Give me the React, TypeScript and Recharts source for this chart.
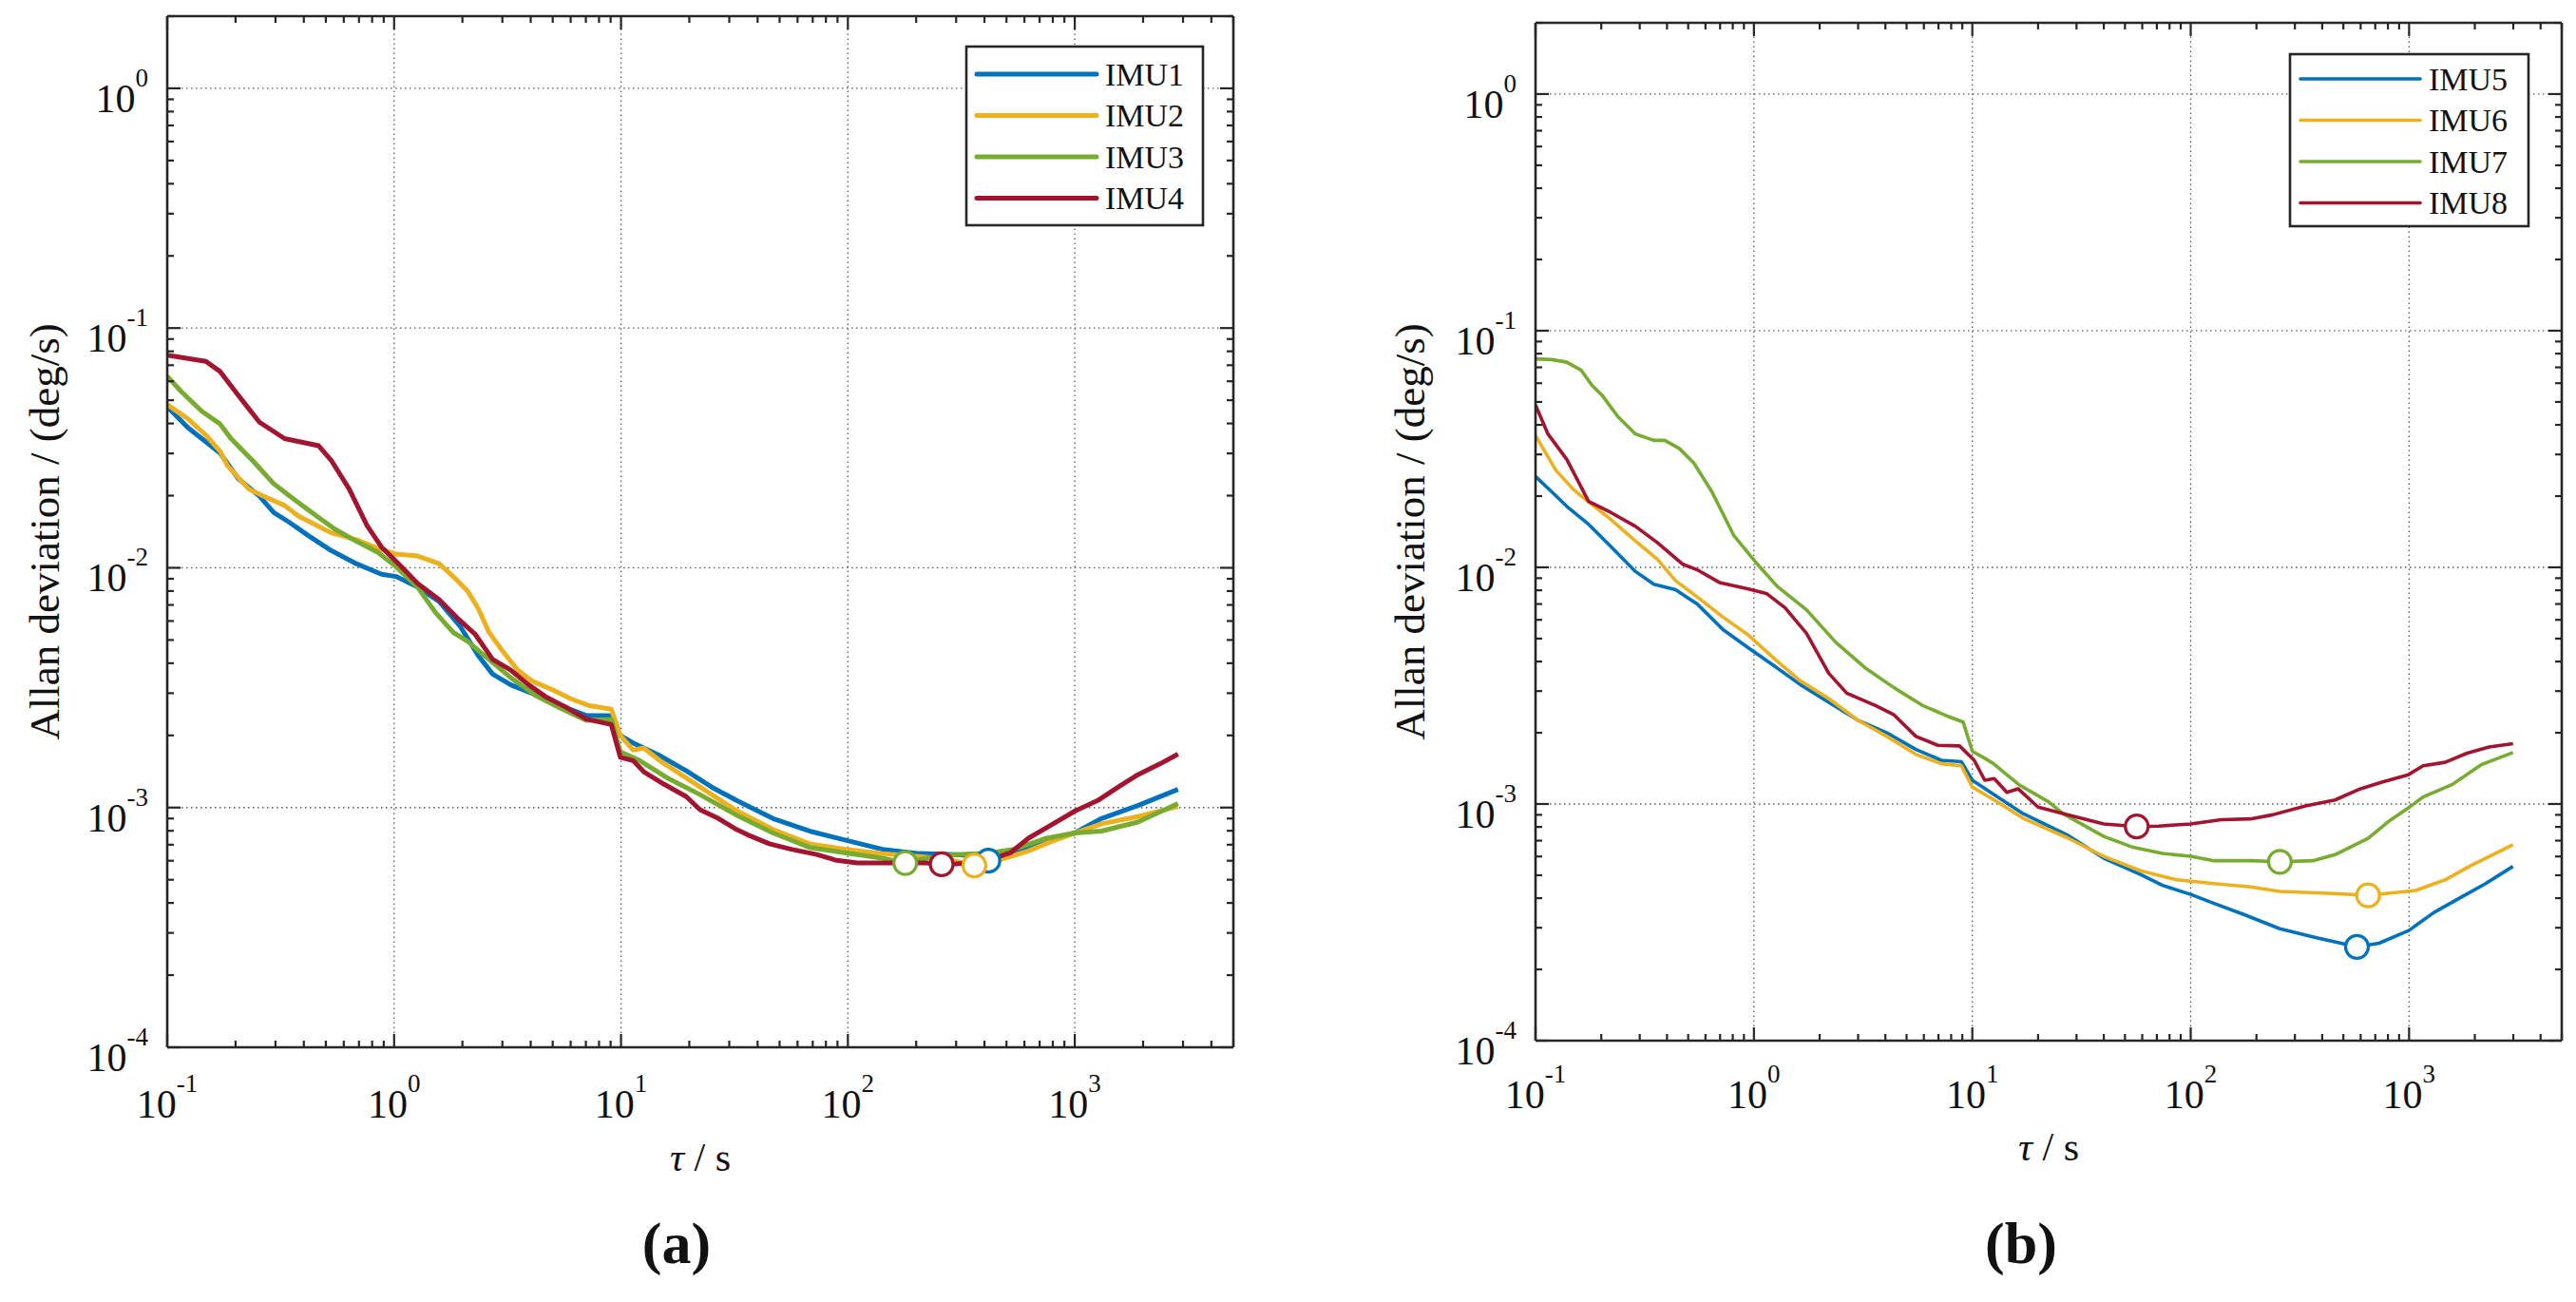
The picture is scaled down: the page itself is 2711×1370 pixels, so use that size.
import React from 'react';
import { ComposedChart, Line, Scatter, XAxis, YAxis, ReferenceLine } from 'recharts';

const FONT = '"Liberation Serif", "Times New Roman", serif';
const AXIS = '#262626';
const GRID = '#5a5a5a';

// axes
const tauMajor = [0.1, 1, 10, 100, 1000];
const adevMajor = [0.0001, 0.001, 0.01, 0.1, 1];
const minorSteps = [2, 3, 4, 5, 6, 7, 8, 9];
const tauDomain = [0.1, 5000];
const adevDomain = [0.0001, 2];
const tauGrid = [1, 10, 100, 1000];
const adevGrid = [0.001, 0.01, 0.1, 1];

const withMinor = (majors: number[], max: number) => [
  ...majors,
  ...majors
    .flatMap((d) => minorSteps.map((m) => Number((d * m).toPrecision(2))))
    .filter((v) => v <= max),
];
const tauTicks = withMinor(tauMajor, tauDomain[1]);
const adevTicks = withMinor(adevMajor, adevDomain[1]);

const colors = ['#0072BD', '#EDB120', '#77AC30', '#A2142F'];
const namesA = ['IMU1', 'IMU2', 'IMU3', 'IMU4'];
const namesB = ['IMU5', 'IMU6', 'IMU7', 'IMU8'];

// [tau (s), Allan deviation (deg/s)]
const imu1 = [
  [0.1, 0.047], [0.123, 0.0385], [0.142, 0.0346], [0.171, 0.0301], [0.205, 0.0236],
  [0.255, 0.0199], [0.295, 0.017], [0.341, 0.0156], [0.425, 0.0135], [0.528, 0.0118],
  [0.682, 0.0104], [0.88, 0.0094], [1.02, 0.0092], [1.27, 0.0083], [1.58, 0.00724],
  [1.96, 0.00568], [2.35, 0.0043], [2.72, 0.0036], [3.27, 0.00325], [3.92, 0.00303],
  [4.7, 0.00283], [5.85, 0.00259], [7.03, 0.00242], [8.9, 0.00242], [9.93, 0.002],
  [11.3, 0.00186], [14.6, 0.00166], [19.5, 0.00142], [25, 0.00122], [32.3, 0.00107],
  [46.8, 0.0009], [67.7, 0.000798], [98, 0.000731], [142, 0.00067], [206, 0.000643],
  [298, 0.000637], [350, 0.00063], [416, 0.0006], [480, 0.00062], [540, 0.000647],
  [752, 0.000731], [1000, 0.000783], [1310, 0.0009], [1897, 0.00102], [2850, 0.00119],
];
const imu2 = [
  [0.1, 0.048], [0.123, 0.0419], [0.148, 0.0358], [0.171, 0.0306], [0.184, 0.0267],
  [0.229, 0.0213], [0.265, 0.0199], [0.329, 0.0182], [0.38, 0.0164], [0.528, 0.014],
  [0.682, 0.0131], [0.818, 0.0122], [1.02, 0.0114], [1.27, 0.0112], [1.58, 0.0104],
  [1.82, 0.0092], [2.11, 0.008], [2.35, 0.00675], [2.62, 0.00538], [3.03, 0.00445],
  [3.51, 0.00374], [4.06, 0.00337], [5.06, 0.00308], [6.07, 0.00283], [7.28, 0.00266],
  [9.06, 0.00257], [9.93, 0.002], [11.3, 0.00174], [12.6, 0.00177], [15.1, 0.00155],
  [22, 0.00123], [32.3, 0.00097], [46.8, 0.00081], [67.7, 0.000706], [98, 0.00067],
  [142, 0.000643], [206, 0.000625], [277, 0.000608], [361, 0.000573], [465, 0.000604],
  [625, 0.000659], [780, 0.000719], [1000, 0.000783], [1310, 0.000855], [1897, 0.000917],
  [2850, 0.00101],
];
const imu3 = [
  [0.1, 0.063], [0.115, 0.0545], [0.142, 0.045], [0.171, 0.0398], [0.191, 0.0346],
  [0.237, 0.0281], [0.295, 0.0224], [0.367, 0.0191], [0.457, 0.0164], [0.548, 0.0145],
  [0.682, 0.0129], [0.849, 0.0116], [1.02, 0.0101], [1.27, 0.0083], [1.52, 0.00652],
  [1.82, 0.00538], [2.11, 0.00493], [2.62, 0.00415], [3.27, 0.00348], [4.22, 0.00293],
  [5.44, 0.00259], [7.03, 0.00231], [9.06, 0.00233], [9.93, 0.00171], [12.1, 0.00157],
  [16.2, 0.00132], [22, 0.00114], [32.3, 0.00093], [46.8, 0.000783], [67.7, 0.000682],
  [98, 0.000647], [142, 0.000615], [179, 0.000587], [222, 0.000615], [298, 0.000637],
  [401, 0.000643], [540, 0.00067], [752, 0.000745], [1000, 0.000783], [1310, 0.000798],
  [1897, 0.00087], [2850, 0.00104],
];
const imu4 = [
  [0.1, 0.077], [0.148, 0.0726], [0.171, 0.0659], [0.205, 0.0526], [0.255, 0.0405],
  [0.329, 0.0346], [0.465, 0.0323], [0.528, 0.0281], [0.634, 0.0213], [0.76, 0.015],
  [0.88, 0.0122], [1.056, 0.0103], [1.27, 0.0086], [1.58, 0.00736], [1.89, 0.0062],
  [2.27, 0.0053], [2.72, 0.00415], [3.27, 0.00374], [3.92, 0.00325], [4.7, 0.00288],
  [5.64, 0.00264], [7.03, 0.00234], [9.06, 0.00222], [9.93, 0.00162], [11.3, 0.00157],
  [12.6, 0.00141], [15.5, 0.00125], [19.4, 0.00111], [22.3, 0.00098], [26.9, 0.0009],
  [32.3, 0.00081], [36.1, 0.00077], [45.1, 0.000706], [56.3, 0.00067], [72.9, 0.000637],
  [87.9, 0.000604], [110, 0.000587], [142, 0.000587], [222, 0.000587], [259, 0.00058],
  [298, 0.000582], [386, 0.00059], [519, 0.000647], [625, 0.000745], [780, 0.000841],
  [1000, 0.000966], [1262, 0.00107], [1578, 0.00123], [1897, 0.00137], [2371, 0.00152],
  [2850, 0.00167],
];
const imu5 = [
  [0.1, 0.0242], [0.119, 0.0208], [0.139, 0.0181], [0.175, 0.0152], [0.22, 0.0123],
  [0.287, 0.0096], [0.348, 0.00848], [0.438, 0.00804], [0.552, 0.00698], [0.722, 0.00546],
  [0.944, 0.00457], [1.24, 0.00383], [1.62, 0.00321], [2.2, 0.00269], [2.99, 0.00226],
  [4.06, 0.002], [5.52, 0.0017], [7.21, 0.00153], [8.91, 0.00151], [10, 0.00126],
  [12.5, 0.0011], [17.1, 0.00091], [27.2, 0.00074], [40, 0.00059], [58.9, 0.000504],
  [74.3, 0.000453], [100, 0.000415], [128, 0.00038], [174, 0.000342], [256, 0.000297],
  [377, 0.000272], [577, 0.000249], [728, 0.000258], [997, 0.000292], [1300, 0.000348],
  [1706, 0.000401], [2240, 0.000461], [2990, 0.000545],
];
const imu6 = [
  [0.1, 0.036], [0.124, 0.0257], [0.15, 0.0212], [0.175, 0.0189], [0.22, 0.016],
  [0.287, 0.0129], [0.362, 0.0108], [0.438, 0.00877], [0.552, 0.00748], [0.722, 0.00616],
  [0.944, 0.00517], [1.24, 0.00411], [1.62, 0.00333], [2.2, 0.00279], [2.99, 0.00226],
  [4.06, 0.00193], [5.52, 0.00162], [7.21, 0.00148], [8.91, 0.00145], [10, 0.00118],
  [12.8, 0.00103], [17.1, 0.00087], [27.2, 0.00072], [40, 0.000601], [58.9, 0.000522],
  [86.6, 0.000478], [128, 0.000461], [188, 0.000446], [256, 0.000427], [408, 0.00042],
  [649, 0.000411], [818, 0.00042], [1072, 0.000431], [1462, 0.000478], [1915, 0.000549],
  [2990, 0.000673],
];
const imu7 = [
  [0.1, 0.076], [0.119, 0.0755], [0.139, 0.0736], [0.162, 0.068], [0.181, 0.0589],
  [0.203, 0.053], [0.237, 0.0436], [0.287, 0.0366], [0.348, 0.0344], [0.391, 0.0344],
  [0.455, 0.0318], [0.531, 0.0276], [0.643, 0.0208], [0.81, 0.0136], [1.02, 0.0105],
  [1.28, 0.0083], [1.74, 0.00662], [2.37, 0.00482], [3.22, 0.00377], [4.38, 0.0031],
  [5.96, 0.0026], [7.79, 0.00234], [9.08, 0.00222], [10, 0.00167], [11.4, 0.00156],
  [12.5, 0.00148], [16.5, 0.0012], [22.4, 0.00102], [26, 0.00091], [40, 0.000729],
  [54.5, 0.000656], [74.3, 0.000618], [100, 0.000601], [128, 0.000576], [188, 0.000576],
  [256, 0.00057], [363, 0.000576], [458, 0.000611], [649, 0.000716], [818, 0.000853],
  [997, 0.000966], [1159, 0.00107], [1578, 0.00121], [2153, 0.00147], [2990, 0.00165],
];
const imu8 = [
  [0.1, 0.0485], [0.114, 0.0366], [0.139, 0.0286], [0.175, 0.019], [0.22, 0.0171],
  [0.287, 0.0149], [0.362, 0.0127], [0.473, 0.0103], [0.552, 0.00975], [0.695, 0.00863],
  [0.944, 0.0081], [1.14, 0.00776], [1.39, 0.00674], [1.74, 0.00526], [2.2, 0.00357],
  [2.66, 0.00294], [3.62, 0.0026], [4.38, 0.00238], [5.52, 0.00193], [6.95, 0.00177],
  [8.74, 0.00176], [10.2, 0.00153], [11.4, 0.00126], [12.6, 0.00128], [14.4, 0.00112],
  [16.2, 0.00116], [20, 0.00097], [27.5, 0.0009], [40, 0.000824], [56.6, 0.000803],
  [71.4, 0.000806], [100, 0.000824], [138, 0.000859], [188, 0.000865], [237, 0.0009],
  [336, 0.000982], [458, 0.00104], [600, 0.00116], [757, 0.00124], [993, 0.00133],
  [1159, 0.00145], [1462, 0.0015], [1844, 0.00164], [2324, 0.00174], [2990, 0.0018],
];

// minimum points marked with circles
const minA = [[416, 0.0006], [361, 0.000573], [179, 0.000587], [259, 0.00058]];
const minB = [[577, 0.000249], [649, 0.000411], [256, 0.00057], [56.6, 0.000803]];

const toPoints = (rows: number[][]) => rows.map(([tau, adev]) => ({ tau, adev }));

const H = 1370;

// top/right axes are 1px wide, so margins are 1px smaller than the plot offset
const panelA = {
  left: 0, width: 1330,
  margin: { top: 16, right: 31, bottom: 68, left: 0 },
  lineWidth: 5, tickLabelDy: 74, yTitleX: 47, xTitleDy: 130,
  legend: { left: 1017, top: 49, width: 249, height: 188, first: 29 },
  letter: '(a)', letterX: 712,
};
const panelB = {
  left: 1440, width: 1271,
  margin: { top: 23, right: 14, bottom: 75, left: 0 },
  lineWidth: 3.6, tickLabelDy: 71, yTitleX: 44, xTitleDy: 126,
  legend: { left: 970, top: 57, width: 251, height: 181, first: 26 },
  letter: '(b)', letterX: 687,
};

const exponent = (v: number) => String(Math.round(Math.log10(v)));

function Power({ x, y, v, anchor }: any) {
  return (
    <text x={x} y={y} textAnchor={anchor} fontFamily={FONT} fontSize={42} fill="#111">
      10
      <tspan dy={-27} fontSize={27}>{exponent(v)}</tspan>
    </text>
  );
}

function Panel({ cfg, names, series, minima }: any) {
  const major = (list: number[], v: number) => list.includes(v);

  const bottomTick = ({ x, y, payload }: any) => {
    const m = major(tauMajor, payload.value);
    return (
      <g>
        <line x1={x} y1={y} x2={x} y2={y - (m ? 14 : 7)} stroke={AXIS} strokeWidth={2.2} />
        {m && <Power x={x} y={y + cfg.tickLabelDy} v={payload.value} anchor="middle" />}
      </g>
    );
  };
  const topTick = ({ x, y, payload }: any) => {
    const m = major(tauMajor, payload.value);
    return <line x1={x} y1={y} x2={x} y2={y + (m ? 14 : 7)} stroke={AXIS} strokeWidth={2.2} />;
  };
  const leftTick = ({ x, y, payload }: any) => {
    const m = major(adevMajor, payload.value);
    return (
      <g>
        <line x1={x} y1={y} x2={x + (m ? 14 : 7)} y2={y} stroke={AXIS} strokeWidth={2.2} />
        {m && <Power x={x - 20} y={y + 25} v={payload.value} anchor="end" />}
      </g>
    );
  };
  const rightTick = ({ x, y, payload }: any) => {
    const m = major(adevMajor, payload.value);
    return <line x1={x} y1={y} x2={x - (m ? 14 : 7)} y2={y} stroke={AXIS} strokeWidth={2.2} />;
  };

  const yTitle = ({ viewBox }: any) => {
    const cx = viewBox.x + cfg.yTitleX;
    const cy = viewBox.y + viewBox.height / 2;
    return (
      <text x={cx} y={cy} transform={`rotate(-90 ${cx} ${cy})`} textAnchor="middle"
        dominantBaseline="central" fontFamily={FONT} fontSize={45} fill="#111">
        Allan deviation / (deg/s)
      </text>
    );
  };
  const xTitle = ({ viewBox }: any) => (
    <text x={viewBox.x + viewBox.width / 2} y={viewBox.y + cfg.xTitleDy} textAnchor="middle"
      fontFamily={FONT} fontSize={42} fill="#111">
      <tspan fontStyle="italic">τ</tspan> / s
    </text>
  );

  const axisCommon = {
    tickLine: false,
    tickSize: 0,
    tickMargin: 0,
    interval: 0 as const,
    allowDataOverflow: true,
    axisLine: { stroke: AXIS, strokeWidth: 2.6 },
  };

  const lg = cfg.legend;

  return (
    <div style={{ position: 'absolute', left: cfg.left, top: 0, width: cfg.width, height: H }}>
      <ComposedChart width={cfg.width} height={H} margin={cfg.margin}>
        <XAxis dataKey="tau" type="number" scale="log" domain={tauDomain} ticks={tauTicks}
          height={200} tick={bottomTick} label={xTitle} {...axisCommon} />
        <XAxis xAxisId="top" orientation="top" dataKey="tau" type="number" scale="log"
          domain={tauDomain} ticks={tauTicks} height={1} tick={topTick} {...axisCommon} />
        <YAxis dataKey="adev" type="number" scale="log" domain={adevDomain} ticks={adevTicks}
          width={176} tick={leftTick} label={yTitle} {...axisCommon} />
        <YAxis yAxisId="right" orientation="right" dataKey="adev" type="number" scale="log"
          domain={adevDomain} ticks={adevTicks} width={1} tick={rightTick} {...axisCommon} />
        {tauGrid.map((v) => (
          <ReferenceLine key={`gx${v}`} x={v} stroke={GRID} strokeWidth={1.3} strokeDasharray="1.5 3.5" />
        ))}
        {adevGrid.map((v) => (
          <ReferenceLine key={`gy${v}`} y={v} stroke={GRID} strokeWidth={1.3} strokeDasharray="1.5 3.5" />
        ))}
        {series.map((rows: number[][], i: number) => (
          <Line key={names[i]} data={toPoints(rows)} dataKey="adev" name={names[i]} type="linear"
            stroke={colors[i]} strokeWidth={cfg.lineWidth} dot={false} activeDot={false}
            strokeLinejoin="round" isAnimationActive={false} />
        ))}
        {minima.map((pt: number[], i: number) => (
          <Scatter key={`min${i}`} data={toPoints([pt])} dataKey="adev" legendType="none"
            isAnimationActive={false}
            shape={(p: any) => (
              <circle cx={p.cx} cy={p.cy} r={12} fill="#fff" stroke={colors[i]} strokeWidth={3.2} />
            )} />
        ))}
      </ComposedChart>

      <svg width={lg.width + 4} height={lg.height + 4}
        style={{ position: 'absolute', left: lg.left - 2, top: lg.top - 2 }}>
        <rect x={2} y={2} width={lg.width} height={lg.height} fill="#fff" stroke={AXIS} strokeWidth={2.6} />
        {names.map((n: string, i: number) => {
          const y = 2 + lg.first + i * 43.5;
          return (
            <g key={n}>
              <line x1={13} y1={y} x2={139} y2={y} stroke={colors[i]} strokeWidth={cfg.lineWidth} strokeLinecap="round" />
              <text x={148} y={y + 11.5} fontFamily={FONT} fontSize={34} fill="#111">{n}</text>
            </g>
          );
        })}
      </svg>

      <div style={{ position: 'absolute', left: cfg.letterX - 60, width: 120, top: 1268, textAlign: 'center',
        fontFamily: FONT, fontWeight: 'bold', fontSize: 62, lineHeight: '80px', color: '#111' }}>
        {cfg.letter}
      </div>
    </div>
  );
}

export default function App() {
  return (
    <div style={{ position: 'absolute', left: 0, top: 0, width: 2711, height: H, background: '#fff', overflow: 'hidden' }}>
      <Panel cfg={panelA} names={namesA} series={[imu1, imu2, imu3, imu4]} minima={minA} />
      <Panel cfg={panelB} names={namesB} series={[imu5, imu6, imu7, imu8]} minima={minB} />
    </div>
  );
}
